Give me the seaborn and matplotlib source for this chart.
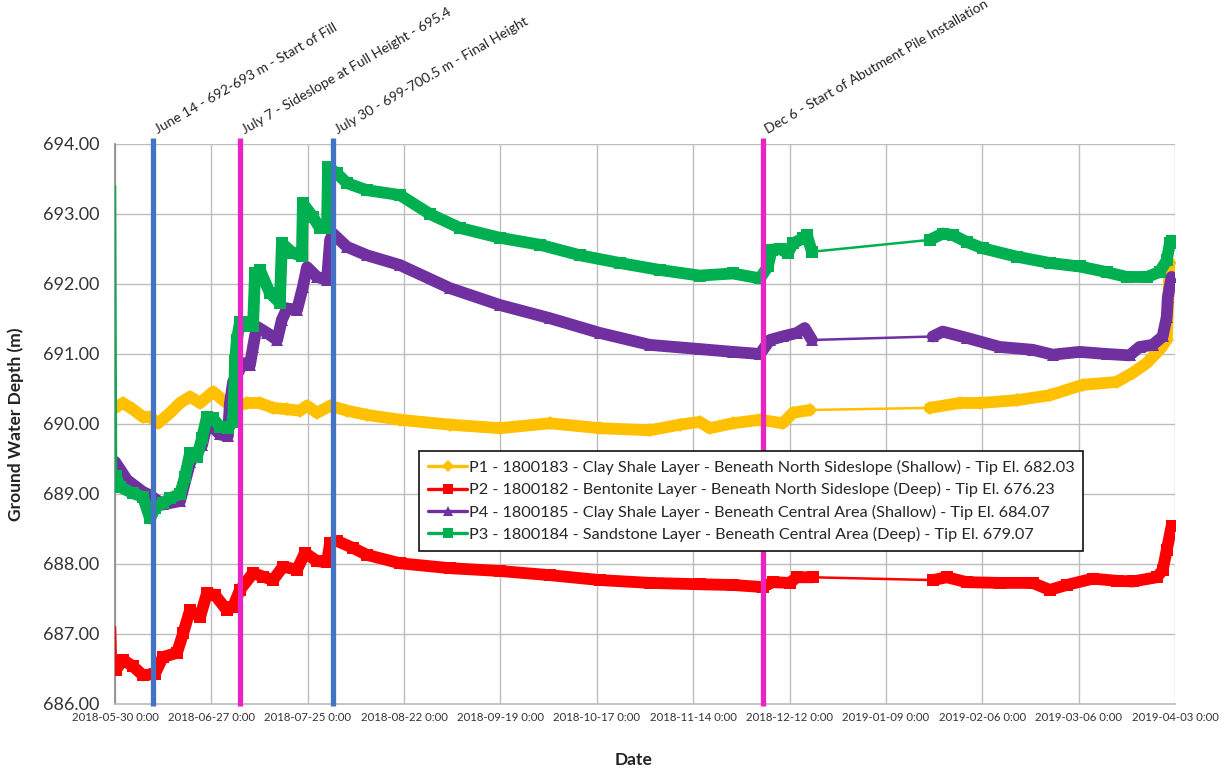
"""
Piezometer groundwater elevations vs. date, with fill-stage event markers.
"""

import pandas as pd
import numpy as np
import matplotlib
matplotlib.use("Agg")
import matplotlib.pyplot as plt
from matplotlib.lines import Line2D
import seaborn as sns

# ==========================================
# DATA (days since 2018-05-30 00:00)
# ==========================================
START = pd.Timestamp("2018-05-30")

P1_DAYS = [0, 2.3, 5.2, 8.1, 10.2, 12.5, 16.0, 18.9, 21.8, 24.7, 28.5, 31.4, 34.3, 38.3,
           42.1, 45.9, 50.0, 53.7, 55.8, 58.7, 62.5, 67.4, 73.2, 82.8, 97.3, 111.8, 126.4,
           140.9, 155.4, 164.1, 169.9, 172.8, 179.5, 187.4, 194.0, 197.0, 201.9,
           236.7, 245.4, 251.3, 262.0, 271.6, 281.2, 291.0, 295.7, 299.8, 303.5, 305.6, 306.5]
P1_VALS = [690.23, 690.30, 690.21, 690.10, 690.10, 690.01, 690.16, 690.30, 690.39, 690.30,
           690.46, 690.34, 690.24, 690.30, 690.30, 690.23, 690.21, 690.19, 690.26, 690.16,
           690.26, 690.19, 690.13, 690.06, 689.99, 689.94, 690.01, 689.94, 689.91, 689.99,
           690.03, 689.94, 690.01, 690.06, 690.01, 690.16, 690.20,
           690.23, 690.30, 690.30, 690.34, 690.41, 690.56, 690.60, 690.73, 690.87, 691.06,
           691.20, 692.30]

P2_DAYS = [0, 0.3, 2.3, 5.2, 8.1, 11.6, 13.9, 18.0, 19.8, 21.8, 24.7, 26.7, 29.0, 32.5,
           34.3, 36.3, 40.1, 43.0, 45.9, 48.8, 52.9, 55.2, 58.7, 61.6, 62.5, 64.5, 69.1,
           73.2, 82.8, 97.3, 111.8, 126.4, 140.9, 155.4, 169.9, 179.5, 188.2, 191.1, 196.1,
           198.1, 202.8, 237.6, 241.7, 247.5, 257.1, 266.6, 271.6, 276.5, 284.1, 291.0,
           295.7, 302.7, 304.4, 305.6, 307.0]
P2_VALS = [687.10, 686.49, 686.63, 686.54, 686.41, 686.43, 686.67, 686.73, 687.01, 687.34,
           687.24, 687.58, 687.56, 687.34, 687.39, 687.63, 687.87, 687.82, 687.77, 687.96,
           687.92, 688.16, 688.04, 688.03, 688.30, 688.33, 688.23, 688.13, 688.01, 687.94,
           687.90, 687.84, 687.77, 687.73, 687.71, 687.70, 687.67, 687.74, 687.73, 687.81,
           687.81, 687.77, 687.81, 687.74, 687.73, 687.73, 687.63, 687.70, 687.79, 687.76,
           687.75, 687.81, 687.91, 688.20, 688.54]

P4_DAYS = [0, 3.5, 8.1, 10.2, 13.9, 18.9, 21.8, 25.3, 26.7, 28.5, 30.5, 32.8, 33.4, 34.3,
           37.2, 39.2, 40.1, 41.2, 44.2, 47.1, 48.5, 50.0, 52.9, 54.6, 55.8, 58.7, 61.6,
           62.5, 63.3, 67.4, 73.2, 82.8, 97.3, 111.8, 126.4, 140.9, 155.4, 169.9, 179.5,
           187.4, 190.3, 194.0, 198.1, 200.4, 202.5, 237.6, 240.5, 247.5, 257.1, 266.6,
           272.5, 280.3, 288.1, 294.8, 297.7, 301.5, 304.4, 305.6, 305.9, 307.0]
P4_VALS = [689.46, 689.20, 689.03, 688.98, 688.85, 688.90, 689.45, 689.70, 690.00, 689.95,
           689.85, 689.83, 690.30, 690.60, 690.87, 690.84, 691.10, 691.39, 691.30, 691.20,
           691.49, 691.65, 691.63, 691.96, 692.24, 692.10, 692.06, 692.63, 692.72, 692.53,
           692.41, 692.27, 691.94, 691.70, 691.51, 691.30, 691.13, 691.07, 691.03, 691.00,
           691.20, 691.25, 691.30, 691.37, 691.20, 691.25, 691.32, 691.23, 691.10, 691.06,
           690.99, 691.03, 691.00, 690.98, 691.10, 691.13, 691.25, 691.53, 691.81, 692.10]

P3_DAYS = [0, 0.3, 1.5, 5.2, 8.1, 10.2, 11.6, 13.9, 16.0, 18.9, 20.3, 21.8, 23.8, 25.3,
           26.7, 28.5, 30.5, 32.8, 34.3, 34.9, 35.4, 36.3, 38.3, 39.2, 40.1, 40.7, 42.1,
           45.0, 47.9, 48.5, 51.7, 54.3, 54.6, 57.5, 59.5, 61.6, 61.9, 64.5, 67.4, 73.2,
           82.8, 91.5, 100.2, 111.8, 123.5, 135.1, 146.7, 158.3, 169.9, 179.5, 187.4,
           189.7, 190.8, 193.2, 195.5, 197.0, 199.9, 201.0, 202.5, 236.7, 240.5, 243.4,
           247.5, 252.1, 262.0, 271.6, 280.3, 288.1, 294.0, 299.8, 303.5, 305.6, 306.5, 307.0]
P3_VALS = [693.40, 689.25, 689.10, 689.01, 688.96, 688.65, 688.80, 688.87, 688.94, 689.00,
           689.24, 689.58, 689.53, 689.80, 690.10, 690.08, 689.96, 689.94, 690.03, 690.90,
           691.20, 691.45, 691.45, 691.40, 691.40, 692.15, 692.20, 691.87, 691.73, 692.58,
           692.44, 692.40, 693.15, 692.96, 692.80, 692.80, 693.67, 693.58, 693.44, 693.34,
           693.27, 693.00, 692.80, 692.66, 692.56, 692.41, 692.30, 692.20, 692.12, 692.15,
           692.08, 692.25, 692.49, 692.50, 692.44, 692.58, 692.65, 692.70, 692.46,
           692.63, 692.72, 692.70, 692.60, 692.51, 692.39, 692.30, 692.25, 692.17, 692.10,
           692.10, 692.17, 692.34, 692.58, 692.62]

SERIES_LABELS = [
    "P1 - 1800183 - Clay Shale Layer - Beneath North Sideslope (Shallow) - Tip El. 682.03",
    "P2 - 1800182 - Bentonite Layer - Beneath North Sideslope (Deep) - Tip El. 676.23",
    "P4 - 1800185 - Clay Shale Layer - Beneath Central Area (Shallow) - Tip El. 684.07",
    "P3 - 1800184 - Sandstone Layer - Beneath Central Area (Deep) - Tip El. 679.07",
]

EVENT_DAYS = [11.0, 36.3, 63.3, 188.2]
EVENT_LABELS = [
    "June 14 - 692-693 m - Start of Fill",
    "July 7 - Sideslope at Full Height - 695.4",
    "July 30 - 699-700.5 m - Final Height",
    "Dec 6 - Start of Abutment Pile Installation",
]

TICK_LABELS = ["2018-05-30 0:00", "2018-06-27 0:00", "2018-07-25 0:00", "2018-08-22 0:00",
               "2018-09-19 0:00", "2018-10-17 0:00", "2018-11-14 0:00", "2018-12-12 0:00",
               "2019-01-09 0:00", "2019-02-06 0:00", "2019-03-06 0:00", "2019-04-03 0:00"]

# ==========================================
# STYLE
# ==========================================
COLORS = ["#FFC000", "#FF0000", "#7030A0", "#00B050"]
MARKERS = ["D", "s", "^", "s"]
MSIZES = [7, 8, 8.5, 8]
THICK_FROM = [0, 1, 0, 1]      # first reading drawn thin for P2 / P3
EVENT_COLORS = ["#4472C4", "#E824C4", "#4472C4", "#E824C4"]


def to_dates(days):
    return START + pd.to_timedelta(np.asarray(days), unit="D")


def segments(days, vals, first):
    d = np.asarray(days)[first:]
    v = np.asarray(vals)[first:]
    cuts = np.where(np.diff(d) > 20)[0] + 1
    return zip(np.split(d, cuts), np.split(v, cuts))


def main():
    sns.set_theme(style="white")
    plt.rcParams["font.family"] = ["Lato", "DejaVu Sans"]

    fig = plt.figure(figsize=(12.3, 7.72), dpi=100)
    ax = fig.add_axes([0.0935, 0.0881, 0.8618, 0.7254])

    all_days = [P1_DAYS, P2_DAYS, P4_DAYS, P3_DAYS]
    all_vals = [P1_VALS, P2_VALS, P4_VALS, P3_VALS]

    for i, (days, vals) in enumerate(zip(all_days, all_vals)):
        # thin connecting line with markers at each reading
        sns.lineplot(x=to_dates(days), y=vals, ax=ax, color=COLORS[i], lw=1.8,
                     marker=MARKERS[i], markersize=MSIZES[i], markeredgewidth=0,
                     markevery=slice(THICK_FROM[i], None),
                     estimator=None, sort=False, zorder=3 + i)
        # dense logger readings appear as a thick band
        for seg_d, seg_v in segments(days, vals, THICK_FROM[i]):
            sns.lineplot(x=to_dates(seg_d), y=seg_v, ax=ax, color=COLORS[i], lw=8.5,
                         estimator=None, sort=False, zorder=3 + i)

    # construction events
    for d, lab, c in zip(EVENT_DAYS, EVENT_LABELS, EVENT_COLORS):
        x = to_dates([d])[0]
        ax.vlines(x, 685.97, 694.08, color=c, lw=3.8, zorder=10, clip_on=False)
        ax.text(x + pd.Timedelta(days=1.8), 694.12, lab, rotation=30, rotation_mode="anchor",
                ha="left", va="bottom", fontsize=10, color="#222222")

    ticks = pd.date_range(START, periods=len(TICK_LABELS), freq="28D")
    ax.set_xlim(ticks[0], ticks[-1])
    ax.set_xticks(ticks)
    ax.set_xticklabels(TICK_LABELS, fontsize=8.2, color="#333333")
    ax.set_ylim(686, 694)
    yt = np.arange(686, 695, 1)
    ax.set_yticks(yt)
    ax.set_yticklabels([f"{v:.2f}" for v in yt], fontsize=13, color="#333333")
    ax.tick_params(axis="x", length=0, pad=6)
    ax.tick_params(axis="y", length=0, pad=11)

    ax.grid(True, color="#BDBDBD", lw=1)
    ax.set_axisbelow(True)
    for side in ["top", "right"]:
        ax.spines[side].set_visible(False)
    ax.spines["left"].set_color("#8C8C8C")
    ax.spines["bottom"].set_color("#BDBDBD")

    ax.set_ylabel("Ground Water Depth (m)", fontsize=12.5, fontweight="bold",
                  color="#222222", va="center")
    ax.yaxis.set_label_coords(-0.094, 0.5)
    ax.set_xlabel("Date", fontsize=12.5, fontweight="bold", color="#222222", va="center")
    ax.xaxis.set_label_coords(0.489, -0.1)

    handles = [Line2D([0], [0], color=COLORS[i], lw=2.4, marker=MARKERS[i],
                      markersize=MSIZES[i] - 1, markeredgewidth=0)
               for i in range(4)]
    leg = ax.legend(handles, SERIES_LABELS, loc="upper left", bbox_to_anchor=(0.287, 0.452),
                    borderaxespad=0, fontsize=11.7, frameon=True, fancybox=False,
                    framealpha=1, edgecolor="#111111", handlelength=2.4,
                    labelspacing=0.45, borderpad=0.55, handletextpad=0.1)
    leg.get_frame().set_linewidth(1.2)
    leg.set_zorder(20)

    fig.savefig("out.png", dpi=100)


if __name__ == "__main__":
    main()
